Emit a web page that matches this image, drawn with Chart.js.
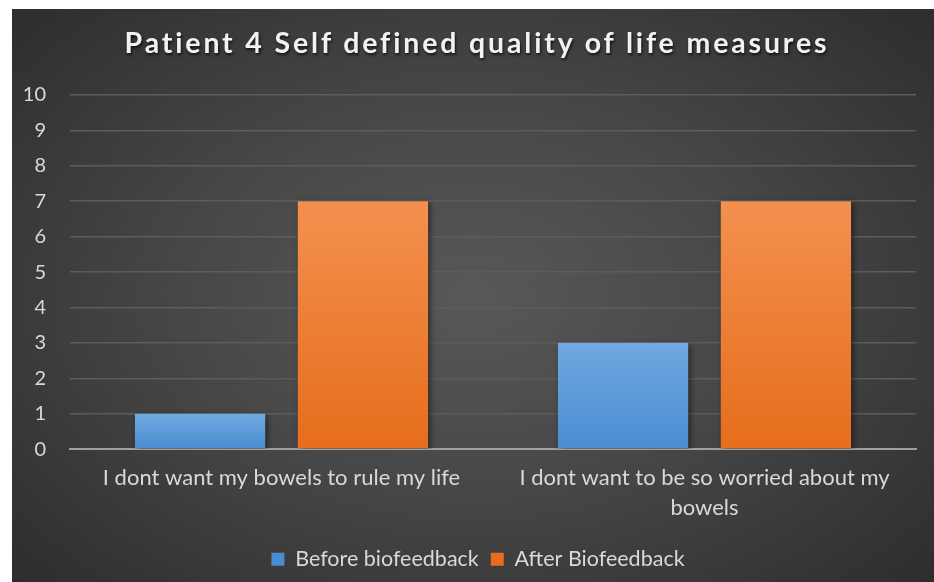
<!DOCTYPE html>
<html>
<head>
<meta charset="utf-8">
<script src="https://cdn.jsdelivr.net/npm/chart.js@4/dist/chart.umd.min.js"></script>
<style>
  html, body { margin: 0; padding: 0; background: #fff; overflow: hidden; }
  #box {
    position: absolute; left: 12px; top: 9px; width: 922px; height: 573px; overflow: hidden;
    background: radial-gradient(ellipse 70% 75% at 50% 50%, #585858 0%, #474747 45%, #2c2c2c 100%);
  }
  #title {
    position: absolute; left: 4px; top: 16px; width: 100%; text-align: center;
    font-family: Lato, sans-serif; font-weight: bold; font-size: 28.5px; letter-spacing: 2.85px;
    color: #f2f2f2; text-shadow: 1px 2px 3px rgba(0,0,0,0.7);
  }
  canvas { position: absolute; left: 0; top: 0; }
</style>
</head>
<body>
<div id="box">
  <canvas id="qolChart" width="922" height="600"></canvas>
  <div id="title">Patient 4 Self defined quality of life measures</div>
</div>
<script>
var categories = [
    'I dont want my bowels to rule my life',
    ['I dont want to be so worried about my', 'bowels']
];
var beforeValues = [1, 3];
var afterValues = [7, 7];
var yTicks = [0, 1, 2, 3, 4, 5, 6, 7, 8, 9, 10];

var textColor = '#d9d9d9';

// gradient per bar, light at top and darker at the base
function barGradient(top, bottom) {
    return function (context) {
        var chart = context.chart;
        if (!chart.chartArea || !chart.scales.y) return bottom;
        var y = chart.scales.y;
        var v = context.raw;
        var g = chart.ctx.createLinearGradient(0, y.getPixelForValue(v), 0, y.getPixelForValue(0));
        g.addColorStop(0, top);
        g.addColorStop(1, bottom);
        return g;
    };
}

var barShadow = {
    id: 'barShadow',
    beforeDatasetsDraw: function (chart) {
        var ctx = chart.ctx;
        ctx.save();
        ctx.shadowColor = 'rgba(0,0,0,0.55)';
        ctx.shadowBlur = 6;
        ctx.shadowOffsetX = 2;
        ctx.shadowOffsetY = 2;
    },
    afterDatasetsDraw: function (chart) {
        chart.ctx.restore();
    }
};

// legend sits a little right of centre in the original
var legendShift = {
    id: 'legendShift',
    afterLayout: function (chart) {
        if (chart.legend) {
            chart.legend.left += 14;
            chart.legend.right += 14;
        }
    }
};

var ctx = document.getElementById('qolChart').getContext('2d');
new Chart(ctx, {
    type: 'bar',
    data: {
        labels: categories,
        datasets: [{
            label: 'Before biofeedback',
            data: beforeValues,
            backgroundColor: barGradient('#71a9e0', '#4a8cd2'),
            borderWidth: 0
        }, {
            label: 'After Biofeedback',
            data: afterValues,
            backgroundColor: barGradient('#f3904f', '#e66d1c'),
            borderWidth: 0
        }]
    },
    plugins: [barShadow, legendShift],
    options: {
        responsive: false,
        animation: false,
        categoryPercentage: 0.77,
        barPercentage: 0.8,
        layout: { padding: { top: 86, right: 18, left: 0, bottom: 29 } },
        plugins: {
            title: { display: false },
            tooltip: { enabled: false },
            legend: {
                position: 'bottom',
                labels: {
                    color: textColor,
                    font: { family: 'Lato', size: 21.5 },
                    boxWidth: 13,
                    boxHeight: 13,
                    padding: 12
                }
            }
        },
        scales: {
            x: {
                grid: { display: false, drawTicks: false },
                border: { color: '#a0a0a0', width: 2 },
                ticks: {
                    color: textColor,
                    font: { family: 'Lato', size: 22, lineHeight: 1.35 },
                    padding: 14,
                    maxRotation: 0
                }
            },
            y: {
                min: 0,
                max: 10,
                afterFit: function (scale) { scale.width = 58; },
                afterBuildTicks: function (scale) {
                    scale.ticks = yTicks.map(function (v) { return { value: v }; });
                },
                grid: { color: '#5c5c5c', lineWidth: 1.5, drawTicks: false },
                border: { display: false },
                ticks: {
                    color: textColor,
                    font: { family: 'Lato', size: 20 },
                    padding: 24
                }
            }
        }
    }
});
</script>
</body>
</html>
